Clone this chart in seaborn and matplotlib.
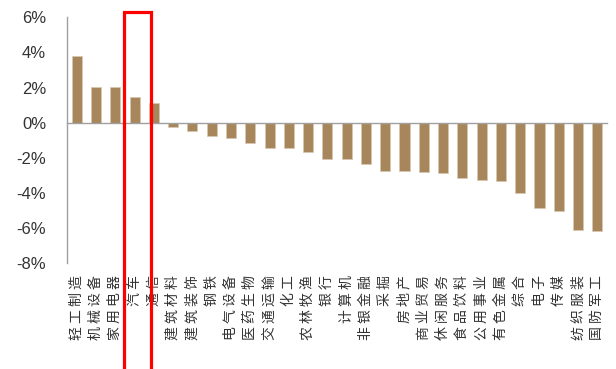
import numpy as np
import matplotlib
matplotlib.use("Agg")
import matplotlib.pyplot as plt
import matplotlib.transforms as mtransforms
from matplotlib.patches import Rectangle
from matplotlib.ticker import FuncFormatter
import seaborn as sns

# 行业周涨跌幅（%）
industries = ["轻工制造", "机械设备", "家用电器", "汽车", "通信", "建筑材料", "建筑装饰",
              "钢铁", "电气设备", "医药生物", "交通运输", "化工", "农林牧渔", "银行",
              "计算机", "非银金融", "采掘", "房地产", "商业贸易", "休闲服务", "食品饮料",
              "公用事业", "有色金属", "综合", "电子", "传媒", "纺织服装", "国防军工"]
returns = [3.80, 2.05, 2.05, 1.48, 1.10, -0.24, -0.50, -0.75, -0.85, -1.13, -1.43,
           -1.43, -1.65, -2.07, -2.07, -2.35, -2.75, -2.75, -2.81, -2.88, -3.17,
           -3.26, -3.32, -3.99, -4.88, -5.01, -6.11, -6.17]
yticks = [-8, -6, -4, -2, 0, 2, 4, 6]
highlight = "汽车"

sns.set_style("white")
plt.rcParams["font.family"] = ["Liberation Sans", "DejaVu Sans"]
plt.rcParams["axes.unicode_minus"] = False

bar_color = "#A8865C"
axis_gray = "#A0A0A0"
text_color = "#333333"

fig = plt.figure(figsize=(6.16, 3.69), dpi=100)
ax = fig.add_axes([0.1088, 0.287, 0.8766, 0.666])

sns.barplot(x=industries, y=returns, color=bar_color, width=0.52,
            saturation=1, edgecolor="#D8C8B0", linewidth=0.5, ax=ax)

ax.set_xlim(-0.5, len(industries) - 0.5)
ax.set_ylim(yticks[0], yticks[-1])
ax.set_yticks(yticks)
ax.yaxis.set_major_formatter(FuncFormatter(lambda v, _: f"{v:.0f}%"))
ax.tick_params(axis="y", direction="out", length=6, width=1, color=axis_gray,
               labelsize=12, labelcolor=text_color, pad=9)

# category axis drawn through zero, ticks between categories
ax.spines["bottom"].set_position(("data", 0))
ax.set_xticks(np.arange(-0.5, len(industries), 1.0))
ax.set_xticklabels([])
ax.tick_params(axis="x", direction="out", length=4, width=1, color=axis_gray)
for side in ("top", "right"):
    ax.spines[side].set_visible(False)
for side in ("left", "bottom"):
    ax.spines[side].set_color(axis_gray)
    ax.spines[side].set_linewidth(1)
ax.set_xlabel("")
ax.set_ylabel("")

# vertical category labels below the plot area
trans = mtransforms.blended_transform_factory(ax.transData, ax.transAxes)
for i, name in enumerate(industries):
    ax.text(i, -0.05, " ".join(name), transform=trans, rotation=90,
            ha="center", va="top", fontsize=10, color=text_color,
            family=["Noto Sans CJK SC", "DejaVu Sans"])

# red frame around the highlighted industry
k = industries.index(highlight)
frame = Rectangle((k - 0.57, -0.6), 1.42, 1.62, transform=trans, fill=False,
                  edgecolor="#FF0000", linewidth=2.3, clip_on=False, zorder=5)
ax.add_patch(frame)

fig.savefig("out.png", dpi=100, facecolor="white")
